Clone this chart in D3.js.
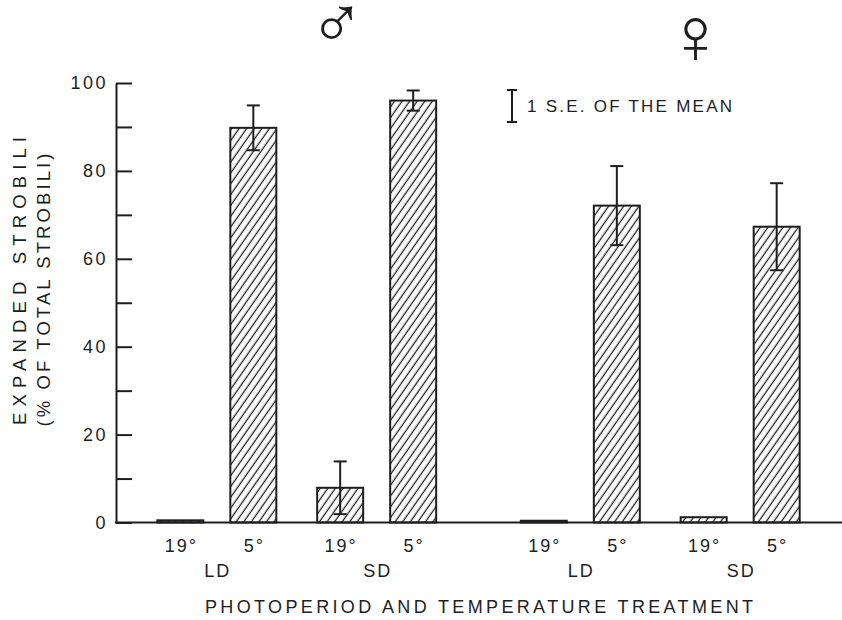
<!DOCTYPE html>
<html>
<head>
<meta charset="utf-8">
<script src="https://cdn.jsdelivr.net/npm/d3@7"></script>
<style>
  body { margin: 0; background: #fff; }
  text { font-family: "Liberation Sans", Arial, sans-serif; fill: #1e1e1e; }
</style>
</head>
<body>
<svg id="chart" width="842" height="620"></svg>
<script>
// ---- data ----
const sexes = ["♂", "♀"];
const photoperiods = ["LD", "SD"];
const temperatures = ["19°", "5°"];

// one entry per bar
const barSex = ["♂", "♂", "♂", "♂", "♀", "♀", "♀", "♀"];
const barPeriod = ["LD", "LD", "SD", "SD", "LD", "LD", "SD", "SD"];
const barTemp = ["19°", "5°", "19°", "5°", "19°", "5°", "19°", "5°"];
const expandedPct = [0.5, 89.8, 7.9, 96.0, 0.4, 72.1, 1.2, 67.3];
const stdErr = [0, 5.1, 6.0, 2.3, 0, 9.0, 0, 9.9];

const yTickValues = [0, 10, 20, 30, 40, 50, 60, 70, 80, 90, 100];
const yTickLabels = ["0", "", "20", "", "40", "", "60", "", "80", "", "100"];

const yTitleLines = ["EXPANDED  STROBILI", "(% OF  TOTAL  STROBILI)"];
const xTitle = "PHOTOPERIOD  AND  TEMPERATURE  TREATMENT";
const legendText = "1 S.E.  OF  THE  MEAN";

// ---- layout ----
const ink = "#1e1e1e";
const svg = d3.select("#chart");

const x0 = d3.scaleBand().domain(sexes).range([115, 842]);
const x1 = d3.scalePoint().domain(photoperiods).range([0, x0.bandwidth()]).padding(0.637);
const x2 = d3.scaleBand().domain(temperatures).range([-96, 96]).paddingInner(0.37).paddingOuter(0.5);
const y = d3.scaleLinear().domain([0, 100]).range([522.5, 83]);

const bars = expandedPct.map((v, i) => ({
  sex: barSex[i], period: barPeriod[i], temp: barTemp[i], value: v, se: stdErr[i],
  left: x0(barSex[i]) + x1(barPeriod[i]) + x2(barTemp[i])
}));

// diagonal hatching
const defs = svg.append("defs");
defs.append("pattern")
  .attr("id", "hatch")
  .attr("patternUnits", "userSpaceOnUse")
  .attr("width", 6.2).attr("height", 6.2)
  .attr("patternTransform", "rotate(35)")
  .append("line")
  .attr("x1", 3).attr("y1", -1).attr("x2", 3).attr("y2", 8)
  .attr("stroke", ink).attr("stroke-width", 1.3);

// bars
svg.append("g").selectAll("rect")
  .data(bars).join("rect")
  .attr("x", d => d.left)
  .attr("y", d => y(d.value))
  .attr("width", x2.bandwidth())
  .attr("height", d => y(0) - y(d.value))
  .attr("fill", "url(#hatch)")
  .attr("stroke", ink)
  .attr("stroke-width", 2);

// error bars (±1 S.E.)
const capHalf = 6.5;
const eb = svg.append("g").attr("stroke", ink).attr("stroke-width", 2);
bars.filter(d => d.se > 0).forEach(d => {
  const cx = d.left + x2.bandwidth() / 2;
  const top = y(d.value + d.se), bot = y(d.value - d.se);
  eb.append("line").attr("x1", cx).attr("x2", cx).attr("y1", top).attr("y2", bot);
  eb.append("line").attr("x1", cx - capHalf).attr("x2", cx + capHalf).attr("y1", top).attr("y2", top);
  eb.append("line").attr("x1", cx - capHalf).attr("x2", cx + capHalf).attr("y1", bot).attr("y2", bot);
});

// y axis with inward ticks
const yAxis = d3.axisLeft(y)
  .tickValues(yTickValues)
  .tickSize(-16)
  .tickSizeOuter(0)
  .tickPadding(8)
  .tickFormat((d, i) => yTickLabels[i]);
const gy = svg.append("g").attr("transform", "translate(116,0)").call(yAxis);
gy.selectAll("path, line").attr("stroke", ink).attr("stroke-width", 2);
gy.selectAll("text")
  .style("font-family", "'Liberation Sans', Arial, sans-serif")
  .style("font-size", "18px")
  .style("letter-spacing", "2.5px")
  .attr("fill", ink);

// baseline across the full width
svg.append("line")
  .attr("x1", x0.range()[0]).attr("x2", x0.range()[1])
  .attr("y1", y(0)).attr("y2", y(0))
  .attr("stroke", ink).attr("stroke-width", 2);

// temperature labels under each bar
svg.append("g").selectAll("text")
  .data(bars).join("text")
  .attr("x", d => d.left + x2.bandwidth() / 2 + 1)
  .attr("y", 546)
  .attr("text-anchor", "middle")
  .attr("dominant-baseline", "central")
  .style("font-size", "18px")
  .style("letter-spacing", "2px")
  .text(d => d.temp);

// photoperiod labels under each pair
const groups = [];
sexes.forEach(s => photoperiods.forEach(p => groups.push({ sex: s, period: p })));
svg.append("g").selectAll("text")
  .data(groups).join("text")
  .attr("x", d => x0(d.sex) + x1(d.period) + 1)
  .attr("y", 571)
  .attr("text-anchor", "middle")
  .attr("dominant-baseline", "central")
  .style("font-size", "18px")
  .style("letter-spacing", "2px")
  .text(d => d.period);

// x-axis title
svg.append("text")
  .attr("x", 205).attr("y", 607)
  .attr("dominant-baseline", "central")
  .attr("textLength", 548)
  .attr("lengthAdjust", "spacing")
  .style("font-size", "18px")
  .text(xTitle);

// y-axis title (two rotated lines)
svg.append("text")
  .attr("transform", "translate(19,281) rotate(-90)")
  .attr("text-anchor", "middle")
  .attr("dominant-baseline", "central")
  .attr("textLength", 288)
  .attr("lengthAdjust", "spacing")
  .style("font-size", "18.5px")
  .text(yTitleLines[0]);
svg.append("text")
  .attr("transform", "translate(43,290) rotate(-90)")
  .attr("text-anchor", "middle")
  .attr("dominant-baseline", "central")
  .attr("textLength", 273)
  .attr("lengthAdjust", "spacing")
  .style("font-size", "18.5px")
  .text(yTitleLines[1]);

// sex symbols above each group
const symbolSize = [74, 80];
svg.append("g").selectAll("text")
  .data(sexes).join("text")
  .attr("x", (d, i) => x0(d) + x0.bandwidth() / 2 + (i === 0 ? 40 : 35))
  .attr("y", (d, i) => i === 0 ? 22 : 35)
  .attr("text-anchor", "middle")
  .attr("dominant-baseline", "central")
  .style("font-family", "'DejaVu Sans', sans-serif")
  .style("font-weight", 200)
  .style("font-size", (d, i) => symbolSize[i] + "px")
  .text(d => d);

// legend: error-bar key
const lg = svg.append("g").attr("stroke", ink).attr("stroke-width", 2);
lg.append("line").attr("x1", 512).attr("x2", 512).attr("y1", 90).attr("y2", 122);
lg.append("line").attr("x1", 507).attr("x2", 517).attr("y1", 90).attr("y2", 90);
lg.append("line").attr("x1", 507).attr("x2", 517).attr("y1", 122).attr("y2", 122);
svg.append("text")
  .attr("x", 527).attr("y", 106)
  .attr("dominant-baseline", "central")
  .attr("textLength", 205)
  .attr("lengthAdjust", "spacing")
  .style("font-size", "17px")
  .text(legendText);
</script>
</body>
</html>
